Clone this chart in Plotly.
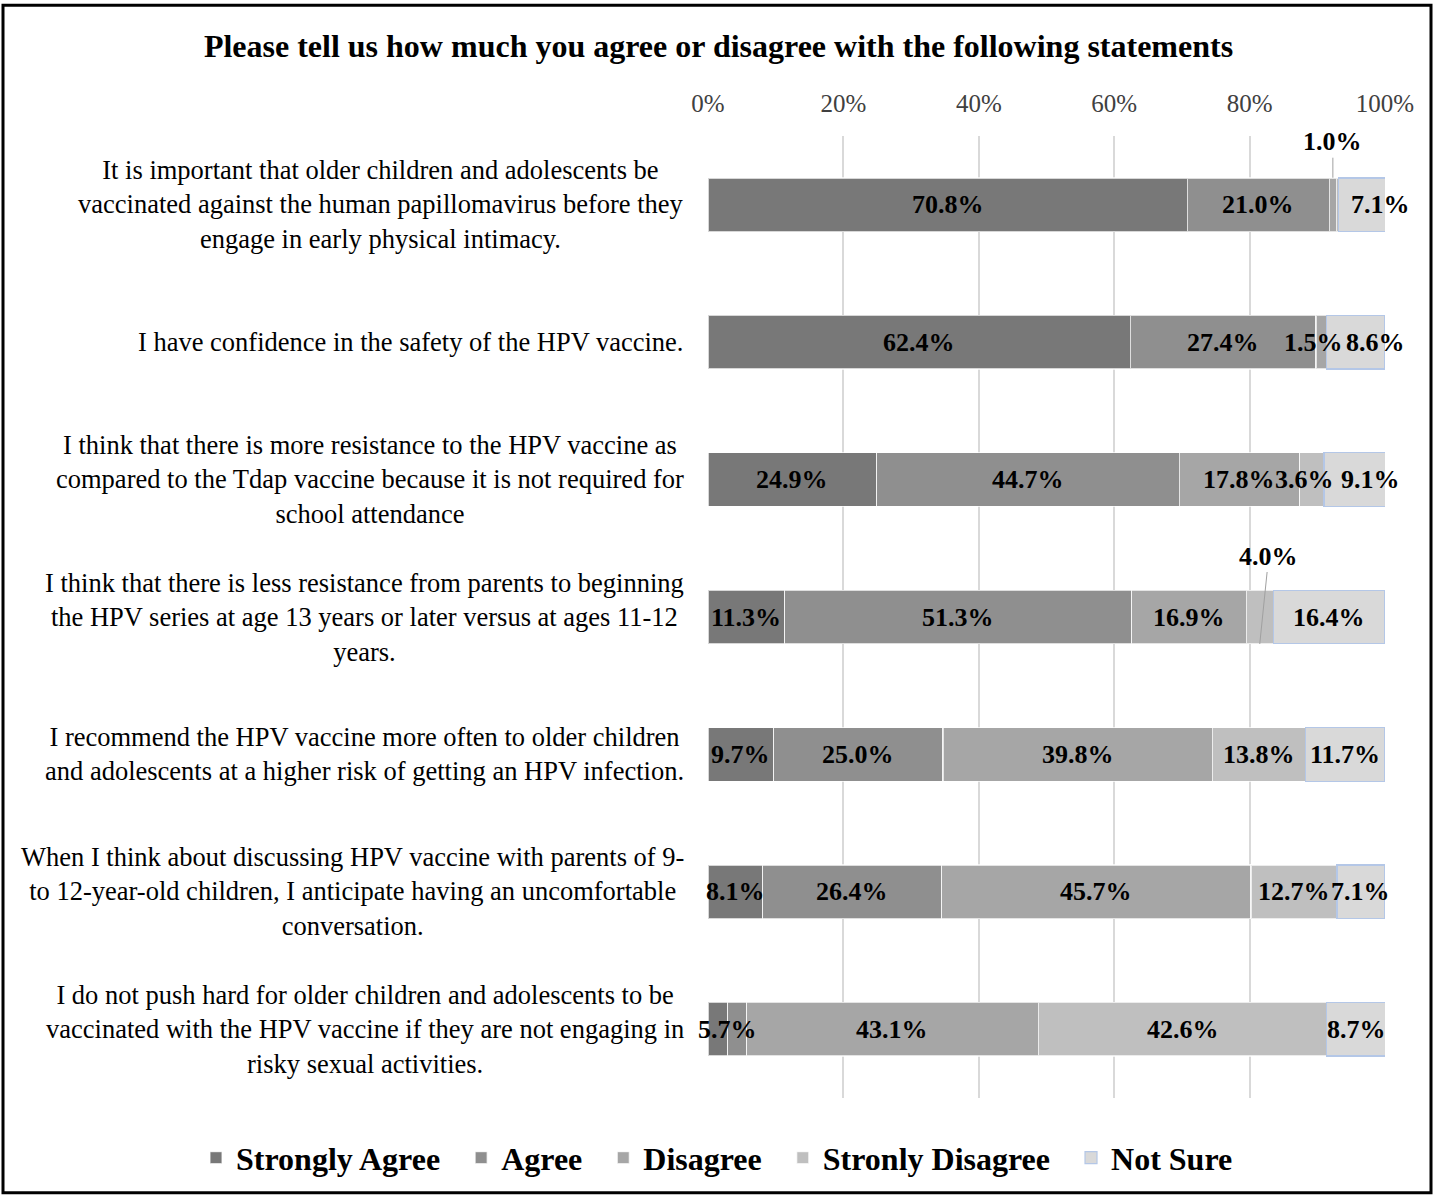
import plotly.graph_objects as go

statements = [
    "It is important that older children and adolescents be<br>vaccinated against the human papillomavirus before they<br>engage in early physical intimacy.",
    "I have confidence in the safety of the HPV vaccine.",
    "I think that there is more resistance to the HPV vaccine as<br>compared to the Tdap vaccine because it is not required for<br>school attendance",
    "I think that there is less resistance from parents to beginning<br>the HPV series at age 13 years or later versus at ages 11-12<br>years.",
    "I recommend the HPV vaccine more often to older children<br>and adolescents at a higher risk of getting an HPV infection.",
    "When I think about discussing HPV vaccine with parents of 9-<br>to 12-year-old children, I anticipate having an uncomfortable<br>conversation.",
    "I do not push hard for older children and adolescents to be<br>vaccinated with the HPV vaccine if they are not engaging in<br>risky sexual activities.",
]

series_names = ["Strongly Agree", "Agree", "Disagree", "Stronly Disagree", "Not Sure"]
strongly_agree = [70.8, 62.4, 24.9, 11.3, 9.7, 8.1, 2.9]
agree = [21.0, 27.4, 44.7, 51.3, 25.0, 26.4, 2.8]
disagree = [1.0, 1.5, 17.8, 16.9, 39.8, 45.7, 43.1]
strongly_disagree = [0.3, 0.1, 3.6, 4.0, 13.8, 12.7, 42.6]
not_sure = [7.1, 8.6, 9.1, 16.4, 11.7, 7.1, 8.7]

tick_vals = [0, 20, 40, 60, 80, 100]
tick_text = ["0%", "20%", "40%", "60%", "80%", "100%"]

title_text = "Please tell us how much you agree or disagree with the following statements"

series = [strongly_agree, agree, disagree, strongly_disagree, not_sure]
colors = ["#787878", "#8f8f8f", "#a6a6a6", "#bfbfbf", "#d9d9d9"]
line_colors = ["rgba(255,255,255,0.7)"] * 4 + ["#b4c7e7"]

SERIF = "Liberation Serif, Times New Roman, serif"
NB = "\u00a0"

fig = go.Figure()
for name, vals, c, lc in zip(series_names, series, colors, line_colors):
    fig.add_trace(go.Bar(
        y=statements, x=vals, name=f"<b>{name}</b>" + NB * 2, orientation="h",
        marker=dict(color=c, line=dict(color=lc, width=1.2)),
        hoverinfo="x",
    ))

annotations = []
lab_font = dict(family=SERIF, size=26, color="black")

hidden = {(0, 3), (1, 3), (6, 0), (6, 1)}
callouts = {(0, 2): dict(yshift=27, ax=0, ay=-36), (3, 3): dict(yshift=-27, ax=9, ay=-88)}
xshifts = {(0, 4): 18, (1, 2): -8, (1, 4): 20, (2, 3): -7, (2, 4): 16}

for r, stmt in enumerate(statements):
    cum = 0.0
    for s, vals in enumerate(series):
        v = vals[r]
        center = cum + v / 2
        cum += v
        if (r, s) in hidden:
            continue
        txt = f"<b>{v:.1f}%</b>"
        if (r, s) in callouts:
            c = callouts[(r, s)]
            annotations.append(dict(
                x=center, y=stmt, xref="x", yref="y", text=txt, font=lab_font,
                showarrow=True, arrowhead=0, arrowwidth=1, arrowcolor="#a0a0a0",
                ax=c["ax"], ay=c["ay"], yshift=c["yshift"], standoff=0,
            ))
        else:
            annotations.append(dict(
                x=center, y=stmt, xref="x", yref="y", text=txt, font=lab_font,
                showarrow=False, xshift=xshifts.get((r, s), 0),
            ))

last = len(statements) - 1
annotations.append(dict(
    x=(strongly_agree[last] + agree[last]) / 2, y=statements[last], xref="x", yref="y",
    text=f"<b>{strongly_agree[last] + agree[last]:.1f}%</b>", font=lab_font, showarrow=False,
))

for stmt in statements:
    annotations.append(dict(
        x=0, y=stmt, xref="paper", yref="y", text=stmt, showarrow=False,
        xanchor="right", yanchor="middle", align="center", xshift=-22,
        font=dict(family=SERIF, size=26.5, color="black"),
    ))

fig.update_layout(
    width=1437, height=1197,
    margin=dict(l=708, r=52, t=136, b=97),
    paper_bgcolor="white", plot_bgcolor="white",
    barmode="stack", bargap=0.61,
    title=dict(text=f"<b>{title_text}</b>", x=0.5, xref="container", xanchor="center",
               y=1 - 46 / 1197, yref="container", yanchor="middle",
               font=dict(family=SERIF, size=32, color="black")),
    xaxis=dict(range=[0, 100], side="top", tickvals=tick_vals, ticktext=tick_text,
               showgrid=True, gridcolor="#d9d9d9", gridwidth=1.5, zeroline=False,
               showline=False, ticks="", ticklen=0, ticklabelstandoff=18,
               tickfont=dict(family=SERIF, size=25, color="#404040"), fixedrange=True),
    yaxis=dict(autorange="reversed", showticklabels=False, showgrid=False, zeroline=False,
               showline=False, ticks=""),
    legend=dict(orientation="h", xref="paper", yref="paper", x=(196 - 708) / 677, xanchor="left",
                y=(1100 - 1160) / 964, yanchor="middle", traceorder="normal",
                font=dict(family=SERIF, size=32, color="black"), itemclick=False),
    annotations=annotations,
    shapes=[dict(type="rect", xref="paper", yref="paper",
                 x0=(3 - 708) / 677, x1=(1431 - 708) / 677,
                 y0=(1100 - 1195) / 964, y1=(1100 - 5) / 964,
                 line=dict(color="black", width=3))],
)

fig.write_html("out.html")
